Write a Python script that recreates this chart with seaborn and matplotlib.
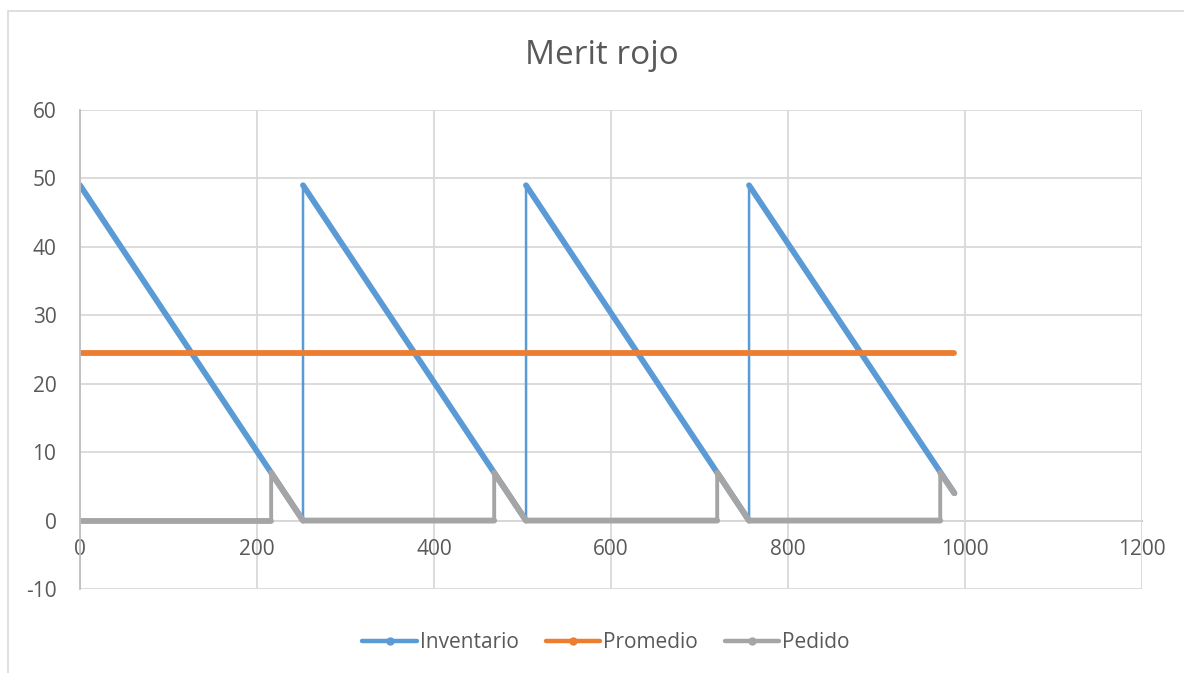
import matplotlib
matplotlib.use("Agg")
import matplotlib.pyplot as plt
from matplotlib.lines import Line2D
from matplotlib.patches import Rectangle
import pandas as pd
import seaborn as sns

# Inventory sawtooth (days vs units)
inv_x = [0, 252, 252, 504, 504, 756, 756, 988]
inv_y = [49, 0, 49, 0, 49, 0, 49, 4]

# Average inventory level
prom_x = [0, 988]
prom_y = [24.5, 24.5]

# Order signal: reorder point reached at 7 units
ped_x = [0, 216, 216, 252, 468, 468, 504, 720, 720, 756, 972, 972, 988]
ped_y = [0, 0, 7, 0, 0, 7, 0, 0, 7, 0, 0, 7, 4]

series_names = ["Inventario", "Promedio", "Pedido"]
colors = ["#5B9BD5", "#ED7D31", "#A5A5A5"]
jump_widths = [1.8, 1.8, 2.8]

x_ticks = [0, 200, 400, 600, 800, 1000, 1200]
y_ticks = [-10, 0, 10, 20, 30, 40, 50, 60]


def to_frame(xs, ys, name):
    # split the path into runs at vertical jumps so the sloped/flat runs
    # can be drawn heavier than the instantaneous jumps
    seg, run = [], 0
    for i in range(len(xs)):
        if i > 0 and xs[i] == xs[i - 1]:
            run += 1
        seg.append(run)
    return pd.DataFrame({"x": xs, "y": ys, "serie": name, "tramo": seg})


frames = [to_frame(inv_x, inv_y, "Inventario"),
          to_frame(prom_x, prom_y, "Promedio"),
          to_frame(ped_x, ped_y, "Pedido")]
df = pd.concat(frames, ignore_index=True)
df["uid"] = df["serie"] + "_" + df["tramo"].astype(str)

sns.set_theme(style="white")
plt.rcParams["font.family"] = ["Open Sans", "DejaVu Sans"]
plt.rcParams["axes.unicode_minus"] = False
text_color = "#595959"
grid_color = "#D9D9D9"

fig = plt.figure(figsize=(11.84, 6.73), dpi=100)
ax = fig.add_axes([80 / 1184, 1 - 589 / 673, (1142 - 80) / 1184, (589 - 110) / 673])

# Chart frame
fig.patches.append(Rectangle((8 / 1184, -0.1), 1.2, 1 - 11 / 673 + 0.1,
                             transform=fig.transFigure, fill=False,
                             edgecolor=grid_color, linewidth=1.2, zorder=0))

palette = dict(zip(series_names, colors))
for name, jw in zip(series_names, jump_widths):
    sub = df[df["serie"] == name]
    # full path, thin (shows the jumps)
    sns.lineplot(data=sub, x="x", y="y", color=palette[name], sort=False,
                 estimator=None, linewidth=jw, ax=ax, legend=False)
    # heavy runs between jumps
    sns.lineplot(data=sub, x="x", y="y", color=palette[name], sort=False,
                 estimator=None, units="uid", linewidth=4.2, ax=ax, legend=False)
for ln in ax.get_lines():
    ln.set_solid_capstyle("round")
    ln.set_solid_joinstyle("round")

ax.set_xlim(0, 1200)
ax.set_ylim(-10, 60)
ax.set_xticks(x_ticks)
ax.set_yticks(y_ticks)
ax.set_xlabel("")
ax.set_ylabel("")
ax.grid(True, color=grid_color, linewidth=1.3)
ax.set_axisbelow(True)

for side in ["top", "right"]:
    ax.spines[side].set_visible(False)
ax.spines["bottom"].set_position(("data", 0))
ax.spines["bottom"].set_color("#BFBFBF")
ax.spines["left"].set_color("#BFBFBF")
ax.spines["bottom"].set_linewidth(1.3)
ax.spines["left"].set_linewidth(1.3)
ax.spines["bottom"].set_zorder(0.5)
ax.tick_params(axis="x", length=0, pad=13, labelsize=15, labelcolor=text_color)
ax.tick_params(axis="y", length=0, pad=17, labelsize=15, labelcolor=text_color)

fig.text(602 / 1184, 1 - 55 / 673, "Merit rojo", ha="center", va="center",
         fontsize=24, color=text_color)

handles = [Line2D([0], [0], color=c, linewidth=3.2, marker="o", markersize=5,
                  solid_capstyle="round") for c in colors]
leg = fig.legend(handles, series_names, loc="center", bbox_to_anchor=(606 / 1184, 1 - 643 / 673),
                 ncol=3, frameon=False, fontsize=15, handlelength=2.6, handletextpad=0.15,
                 columnspacing=1.3, numpoints=1)
for t in leg.get_texts():
    t.set_color(text_color)

fig.savefig("out.png", dpi=100)
